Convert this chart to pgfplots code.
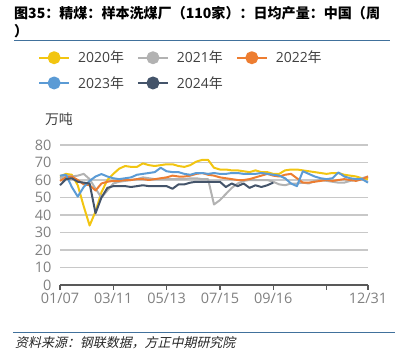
\documentclass[border=0pt]{standalone}
\usepackage{fontspec}
\setmainfont{Open Sans}
\newfontfamily\cjk{Noto Sans CJK SC}
\newfontfamily\cjkit[FakeSlant=0.22]{Noto Sans CJK SC}
\usepackage{pgfplots}
\pgfplotsset{compat=1.18}
\definecolor{c2020}{RGB}{242,197,17}
\definecolor{c2021}{RGB}{178,178,178}
\definecolor{c2022}{RGB}{237,125,49}
\definecolor{c2023}{RGB}{91,155,213}
\definecolor{c2024}{RGB}{68,84,106}
\definecolor{tickc}{RGB}{128,128,128}
\definecolor{gridc}{RGB}{200,200,200}
\definecolor{axisc}{RGB}{89,89,89}
\definecolor{rulec}{RGB}{65,113,156}
\definecolor{txt}{RGB}{64,64,64}
\begin{document}
\begin{tikzpicture}[x=1bp,y=1bp]
\useasboundingbox (0,0) rectangle (395,360);
\node[anchor=base west, inner sep=0] at (14,342) {\fontsize{14.1}{16}\selectfont\cjk\bfseries 图35：精煤：样本洗煤厂（110家）：日均产量：中国（周};
\node[anchor=base west, inner sep=0] at (14,324) {\fontsize{14.1}{16}\selectfont\cjk\bfseries ）};
\draw[rulec, line width=1.3bp] (14,319.5) -- (390,319.5);
\draw[rulec, line width=1.3bp] (13,27.5) -- (395,27.5);
\node[anchor=base west, inner sep=0, text=black!85] at (15,13) {\fontsize{13}{15}\selectfont\cjkit 资料来源：钢联数据，方正中期研究院};
\node[text=txt, inner sep=0] at (59,241) {\fontsize{14}{16}\selectfont\cjk 万吨};
\begin{axis}[
  at={(60bp,75bp)}, anchor=south west,
  scale only axis, width=308bp, height=140bp,
  xmin=0, xmax=52, ymin=0, ymax=80,
  xtick={0,9,18,27,36,45,52},
  xticklabels={01/07,03/11,05/13,07/15,09/16,,12/31},
  ytick={0,10,...,80},
  axis lines*=left,
  axis line style={-},
  x axis line style={draw=axisc, line width=1.2bp},
  y axis line style={draw=none},
  ytick style={draw=none},
  xtick style={draw=axisc, line width=1.2bp},
  tick align=outside,
  major tick length=5bp,
  ymajorgrids,
  grid style={gridc, line width=1.5bp},
  tick label style={font=\fontsize{14.5}{16}\selectfont, text=tickc},
  /pgf/number format/assume math mode=true,
  clip=false,
  legend columns=3,
  legend cell align=left,
  legend style={draw=none, fill=none, inner sep=0pt, outer sep=0pt,
    at={(-0.071,1.671)}, anchor=north west,
    font=\fontsize{14}{16}\selectfont, text=txt,
    nodes={inner sep=0pt},
    row sep=12bp,
    /tikz/every odd column/.append style={column sep=8bp},
    /tikz/every even column/.append style={column sep=13bp}},
  legend image code/.code={
    \draw[#1, line width=2bp] (0bp,0bp) -- (30bp,0bp);
    \fill[#1] (15bp,0bp) circle (5.5bp);
  },
  every axis plot/.append style={line width=2bp, line join=round, no markers},
]
\addplot[c2020] coordinates {(0,62)(1,63.5)(2,63)(3,57)(4,45)(5,34)(6,42)(7,53)(8,60)(9,63.5)(10,66.5)(11,68)(12,67.5)(13,67.5)(14,69.5)(15,68.5)(16,68)(17,68.5)(18,69)(19,69)(20,68)(21,67.5)(22,68.5)(23,70.5)(24,71.5)(25,71.5)(26,67)(27,66)(28,66)(29,65.5)(30,65.5)(31,65)(32,64.5)(33,65.5)(34,64.5)(35,64.5)(36,63.5)(37,63.5)(38,65.5)(39,66)(40,66)(41,65.5)(42,65)(43,64.5)(44,64)(45,63.5)(46,64)(47,64)(48,63)(49,62.5)(50,62)(51,61)(52,60.5)};
\addlegendentry{2020{\cjk 年}}
\addplot[c2021] coordinates {(0,61)(1,62.5)(2,62)(3,62.5)(4,63.5)(5,60.5)(6,55)(7,50)(8,54)(9,58)(10,59)(11,59.5)(12,60)(13,60.5)(14,61.5)(15,61)(16,60.5)(17,60.5)(18,60.5)(19,60.5)(20,60.5)(21,60.5)(22,61)(23,61)(24,60.5)(25,60.5)(26,46)(27,48.5)(28,52)(29,55.5)(30,58)(31,59.5)(32,60)(33,60)(34,60)(35,60)(36,59)(37,57.5)(38,57)(39,58)(40,58)(41,58.5)(42,58)(43,59.5)(44,60)(45,59.5)(46,59)(47,58.5)(48,58.5)(49,59.5)(50,60)(51,61)(52,62)};
\addlegendentry{2021{\cjk 年}}
\addplot[c2022] coordinates {(0,59.5)(1,61.5)(2,62)(3,60)(4,57.5)(5,57)(6,54)(7,58)(8,59)(9,59.5)(10,59.5)(11,60)(12,60)(13,60.5)(14,60.5)(15,60)(16,60.5)(17,61)(18,61.5)(19,62.5)(20,62)(21,62)(22,62.5)(23,63.5)(24,64)(25,63)(26,62.5)(27,61.5)(28,61)(29,60.5)(30,60)(31,60)(32,60.5)(33,61.5)(34,62.5)(35,63.5)(36,62.5)(37,62)(38,63)(39,63.5)(40,61)(41,58.5)(42,58.5)(43,59)(44,59.5)(45,60)(46,59.5)(47,60)(48,60.5)(49,60)(50,59.5)(51,60.5)(52,62)};
\addlegendentry{2022{\cjk 年}}
\addplot[c2023] coordinates {(0,62.5)(1,63)(2,56)(3,50.5)(4,56)(5,59.5)(6,62)(7,63.4)(8,62)(9,61)(10,60.5)(11,61)(12,61.5)(13,63)(14,63.5)(15,64)(16,64.5)(17,67)(18,65)(19,64.5)(20,64.5)(21,63.5)(22,63)(23,64)(24,64)(25,63.5)(26,64)(27,63.5)(28,63.5)(29,64)(30,64)(31,63.5)(32,63.5)(33,63.5)(34,64)(35,63.5)(36,63)(37,62.5)(38,61)(39,58)(40,56.5)(41,65)(42,63.5)(43,62)(44,61)(45,60.5)(46,61)(47,64.3)(48,62)(49,61)(50,60.5)(51,60.5)(52,58.5)};
\addlegendentry{2023{\cjk 年}}
\addplot[c2024] coordinates {(0,57)(1,60.5)(2,61)(3,59)(4,58.5)(5,58)(6,41)(7,50)(8,55.5)(9,56.5)(10,56.5)(11,56.5)(12,56)(13,56.5)(14,57)(15,56.5)(16,56.5)(17,56.5)(18,56.5)(19,55)(20,57.5)(21,57.5)(22,58.5)(23,59)(24,59)(25,59)(26,59)(27,59)(28,56)(29,58)(30,56.5)(31,58)(32,55.5)(33,57)(34,56)(35,57)(36,58.5)};
\addlegendentry{2024{\cjk 年}}
\end{axis}
\end{tikzpicture}
\end{document}
